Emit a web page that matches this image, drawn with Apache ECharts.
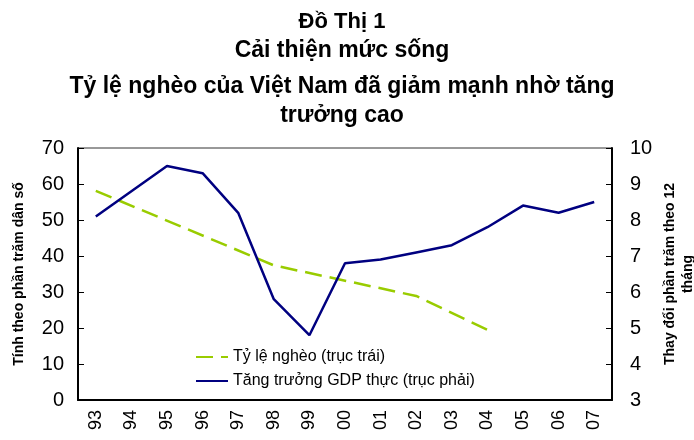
<!DOCTYPE html>
<html>
<head>
<meta charset="utf-8">
<script src="https://cdn.jsdelivr.net/npm/echarts@6/dist/echarts.min.js"></script>
<style>
  html, body { margin: 0; padding: 0; background: #fff; }
  #main { width: 694px; height: 440px; }
</style>
</head>
<body>
<div id="main"></div>
<script>
// số liệu
var years = ['93','94','95','96','97','98','99','00','01','02','03','04','05','06','07'];
// tỷ lệ nghèo chỉ có ở vài năm, các năm khác để trống (đường nối thẳng)
var ngheo = [58.1, null, null, null, null, 37.4, null, null, null, 28.9, null, 19.5, null, null, null];
var gdp = [8.1, 8.8, 9.5, 9.3, 8.2, 5.8, 4.8, 6.8, 6.9, 7.1, 7.3, 7.8, 8.4, 8.2, 8.5];

var chart = echarts.init(document.getElementById('main'), null, { renderer: 'canvas' });
var font = 'Liberation Sans, Arial, sans-serif';

// tiêu đề nhiều dòng
function titleLine(text, top, size) {
  return {
    text: text,
    left: 337,
    top: top,
    textAlign: 'center',
    textStyle: { fontFamily: font, fontWeight: 'bold', fontSize: size, color: '#000' }
  };
}

var option = {
  backgroundColor: '#fff',
  animation: false,
  title: [
    titleLine('Đồ Thị 1', 6, 22),
    titleLine('Cải thiện mức sống', 34, 23),
    titleLine('Tỷ lệ nghèo của Việt Nam đã giảm mạnh nhờ tăng', 70, 23),
    titleLine('trưởng cao', 99, 23)
  ],
  grid: {
    left: 78, right: 82, top: 148, bottom: 40,
    outerBoundsMode: 'none',
    containLabel: false,
    show: true, borderColor: '#333', borderWidth: 1
  },
  legend: {
    orient: 'vertical',
    left: 195,
    top: 349,
    padding: 0,
    itemGap: 8,
    itemWidth: 32,
    itemHeight: 16,
    itemStyle: { opacity: 0 },
    textStyle: { fontFamily: font, fontSize: 16, color: '#000' },
    data: ['Tỷ lệ nghèo (trục trái)', 'Tăng trưởng GDP thực (trục phải)']
  },
  xAxis: {
    type: 'category',
    data: years,
    boundaryGap: true,
    axisLine: { lineStyle: { color: '#000', width: 2 } },
    axisTick: { inside: true, length: 6, lineStyle: { color: '#000' } },
    axisLabel: { rotate: 90, margin: 10, fontFamily: font, fontSize: 18, color: '#000' },
    splitLine: { show: false }
  },
  yAxis: [{
    type: 'value',
    min: 0, max: 70, interval: 10,
    name: 'Tính theo phần trăm dân số',
    nameLocation: 'middle',
    nameRotate: 90,
    nameGap: 52,
    nameTextStyle: { fontFamily: font, fontWeight: 'bold', fontSize: 14, color: '#000' },
    axisLine: { show: true, lineStyle: { color: '#000', width: 2 } },
    axisTick: { show: true, inside: true, length: 6, lineStyle: { color: '#000' } },
    axisLabel: { margin: 14, fontFamily: font, fontSize: 20, color: '#000' },
    splitLine: { show: false }
  }, {
    type: 'value',
    min: 3, max: 10, interval: 1,
    position: 'right',
    name: 'Thay đổi phần trăm theo 12\ntháng',
    nameLocation: 'middle',
    nameRotate: 90,
    nameGap: 49,
    nameMoveOverlap: false,
    nameTextStyle: { fontFamily: font, fontWeight: 'bold', fontSize: 14, color: '#000', align: 'center', lineHeight: 18 },
    axisLine: { show: true, lineStyle: { color: '#000', width: 2 } },
    axisTick: { show: true, inside: true, length: 6, lineStyle: { color: '#000' } },
    axisLabel: { margin: 18, fontFamily: font, fontSize: 20, color: '#000' },
    splitLine: { show: false }
  }],
  series: [{
    name: 'Tỷ lệ nghèo (trục trái)',
    type: 'line',
    yAxisIndex: 0,
    data: ngheo,
    connectNulls: true,
    symbol: 'none',
    lineStyle: { color: '#99cc00', width: 2.5, type: [17, 8] },
    itemStyle: { color: '#99cc00' }
  }, {
    name: 'Tăng trưởng GDP thực (trục phải)',
    type: 'line',
    yAxisIndex: 1,
    data: gdp,
    symbol: 'none',
    lineStyle: { color: '#000080', width: 2.5 },
    itemStyle: { color: '#000080' }
  }]
};

chart.setOption(option);
</script>
</body>
</html>
